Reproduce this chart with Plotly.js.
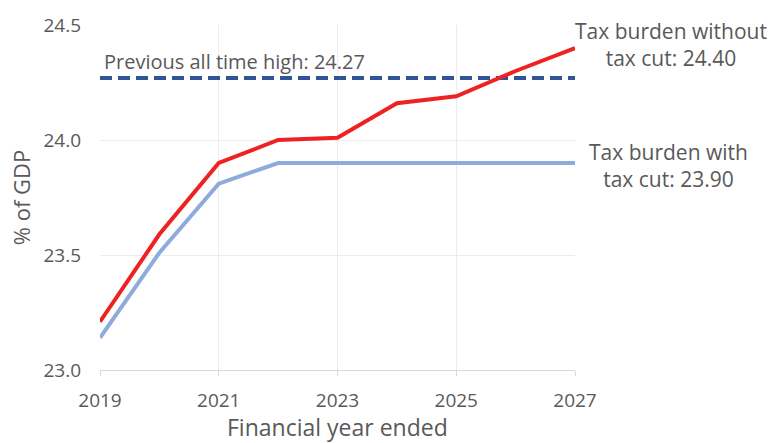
<!DOCTYPE html>
<html>
<head>
<meta charset="utf-8">
<script src="https://cdn.plot.ly/plotly-3.0.1.min.js"></script>
<style>html,body{margin:0;padding:0;background:#fff;}#chart{width:768px;height:443px;}</style>
</head>
<body>
<div id="chart"></div>
<script>
const years = [2019, 2020, 2021, 2022, 2023, 2024, 2025, 2026, 2027];
const withoutCut = [23.21, 23.59, 23.90, 24.00, 24.01, 24.16, 24.19, 24.30, 24.40];
const withCut = [23.14, 23.51, 23.81, 23.90, 23.90, 23.90, 23.90, 23.90, 23.90];
const previousHigh = 24.27;
const yTicks = [23.0, 23.5, 24.0, 24.5];
const xTicks = [2019, 2021, 2023, 2025, 2027];
const xTitle = 'Financial year ended';
const yTitle = '% of GDP';

const FONT = '"Open Sans", sans-serif';
const GREY = '#595959';

const traces = [
  {x: years, y: years.map(() => previousHigh), mode: 'lines', line: {color: '#2F5597', width: 4, dash: '12px,6px'}, hoverinfo: 'skip'},
  {x: years, y: withCut, mode: 'lines', line: {color: '#8FAADC', width: 4}},
  {x: years, y: withoutCut, mode: 'lines', line: {color: '#EE2222', width: 4}}
];

const layout = {
  width: 768, height: 443,
  margin: {l: 100, r: 193, t: 25, b: 73},
  showlegend: false,
  paper_bgcolor: '#fff', plot_bgcolor: '#fff',
  font: {family: FONT, color: GREY, size: 17},
  xaxis: {
    range: [2019, 2027], tickvals: xTicks, ticktext: xTicks.map(String),
    showgrid: true, gridcolor: '#ececec', gridwidth: 1,
    showline: true, linecolor: '#d9d9d9', linewidth: 1,
    ticks: 'outside', ticklen: 5, tickcolor: '#d9d9d9',
    ticklabelstandoff: 8,
    zeroline: false,
    tickfont: {family: FONT, size: 19, color: GREY}
  },
  yaxis: {
    range: [23.0, 24.5], tickvals: yTicks, ticktext: yTicks.map(v => v.toFixed(1)),
    showgrid: true, gridcolor: '#ececec', gridwidth: 1,
    showline: false, zeroline: false, ticks: '',
    ticklabelstandoff: 18,
    tickfont: {family: FONT, size: 19, color: GREY},
    title: {text: yTitle, font: {family: FONT, size: 22, color: GREY}, standoff: 6}
  },
  annotations: [
    {xref: 'paper', yref: 'paper', x: 0.5, y: 0, xanchor: 'center', yanchor: 'middle', yshift: -57,
     text: xTitle, showarrow: false, font: {family: FONT, size: 23, color: GREY}},
    {xref: 'paper', yref: 'y', x: 0.004, y: previousHigh, xanchor: 'left', yanchor: 'bottom', yshift: 1,
     text: 'Previous all time high: ' + previousHigh.toFixed(2), showarrow: false,
     font: {family: FONT, size: 20, color: GREY}},
    {xref: 'x', yref: 'y', x: 2027, y: withoutCut[withoutCut.length - 1], xanchor: 'center', yanchor: 'middle',
     xshift: 96, yshift: 4,
     text: 'Tax burden without<br>tax cut: ' + withoutCut[withoutCut.length - 1].toFixed(2), showarrow: false,
     font: {family: FONT, size: 21, color: GREY}},
    {xref: 'x', yref: 'y', x: 2027, y: withCut[withCut.length - 1], xanchor: 'center', yanchor: 'middle',
     xshift: 93, yshift: -2,
     text: 'Tax burden with<br>tax cut: ' + withCut[withCut.length - 1].toFixed(2), showarrow: false,
     font: {family: FONT, size: 21, color: GREY}}
  ]
};

Plotly.newPlot('chart', traces, layout, {displayModeBar: false, staticPlot: true});
</script>
</body>
</html>
